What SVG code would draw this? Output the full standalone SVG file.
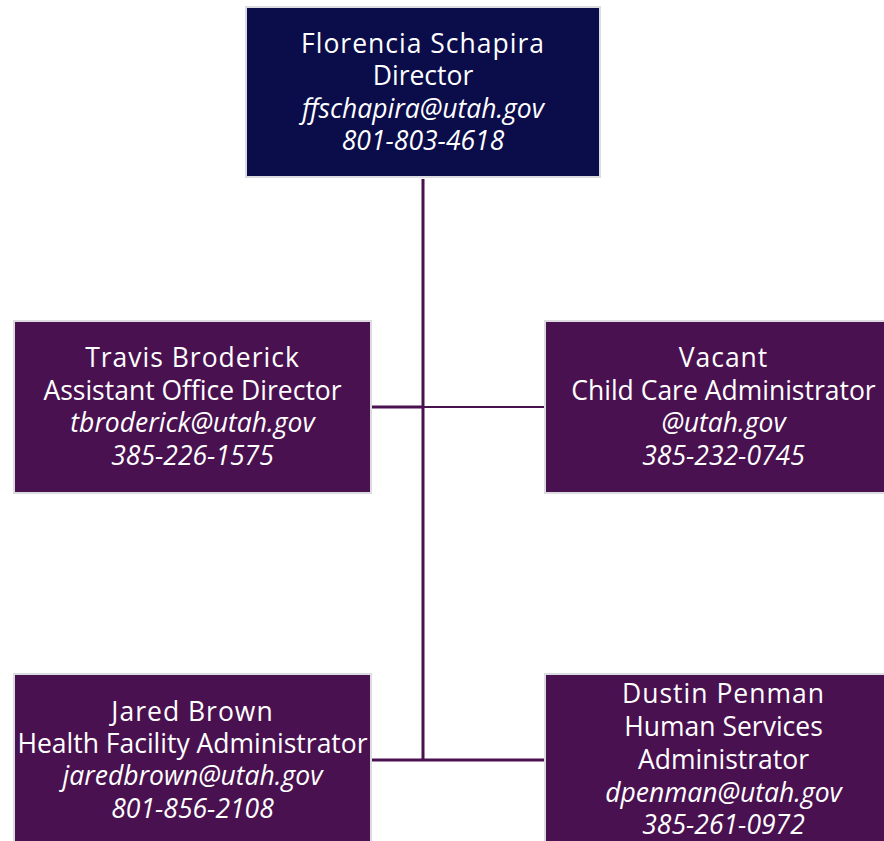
<svg xmlns="http://www.w3.org/2000/svg" width="884" height="841" viewBox="0 0 884 841">
<style>
.box{stroke:#dcdce0;stroke-width:2}
.top{fill:#0b0c4a}
.sub{fill:#4a1150}
text{font-family:"Open Sans","Liberation Sans",sans-serif;font-size:26.5px;fill:#ffffff;text-anchor:middle}
.n{letter-spacing:1px}
.i{font-style:italic}
.c{stroke:#4a1150;fill:none}
</style>
<rect width="884" height="841" fill="#ffffff"/>
<g id="connectors">
<line class="c" x1="423" y1="179" x2="423" y2="761" stroke-width="3"/>
<line class="c" x1="371" y1="407" x2="424" y2="407" stroke-width="3"/>
<line class="c" x1="423" y1="407" x2="545" y2="407" stroke-width="2"/>
<line class="c" x1="371" y1="760" x2="545" y2="760" stroke-width="3"/>
</g>
<g id="director">
<rect class="box top" x="246" y="7" width="354" height="170"/>
<text x="423" y="53" class="n">Florencia Schapira</text>
<text x="423" y="85">Director</text>
<text x="423" y="118" class="i">ffschapira@utah.gov</text>
<text x="423" y="150" class="i">801-803-4618</text>
</g>
<g id="travis">
<rect class="box sub" x="14" y="321" width="357" height="172"/>
<text x="192.5" y="367" class="n">Travis Broderick</text>
<text x="192.5" y="400">Assistant Office Director</text>
<text x="192.5" y="432" class="i">tbroderick@utah.gov</text>
<text x="192.5" y="465" class="i">385-226-1575</text>
</g>
<g id="vacant">
<rect class="box sub" x="545" y="321" width="357" height="172"/>
<text x="723.5" y="367" class="n">Vacant</text>
<text x="723.5" y="400">Child Care Administrator</text>
<text x="723.5" y="432" class="i">@utah.gov</text>
<text x="723.5" y="465" class="i">385-232-0745</text>
</g>
<g id="jared">
<rect class="box sub" x="14" y="674" width="357" height="180"/>
<text x="192.5" y="721" class="n">Jared Brown</text>
<text x="192.5" y="753">Health Facility Administrator</text>
<text x="192.5" y="785" class="i">jaredbrown@utah.gov</text>
<text x="192.5" y="818" class="i">801-856-2108</text>
</g>
<g id="dustin">
<rect class="box sub" x="545" y="674" width="357" height="180"/>
<text x="723.5" y="703" class="n">Dustin Penman</text>
<text x="723.5" y="736">Human Services</text>
<text x="723.5" y="769">Administrator</text>
<text x="723.5" y="802" class="i">dpenman@utah.gov</text>
<text x="723.5" y="834" class="i">385-261-0972</text>
</g>
</svg>
